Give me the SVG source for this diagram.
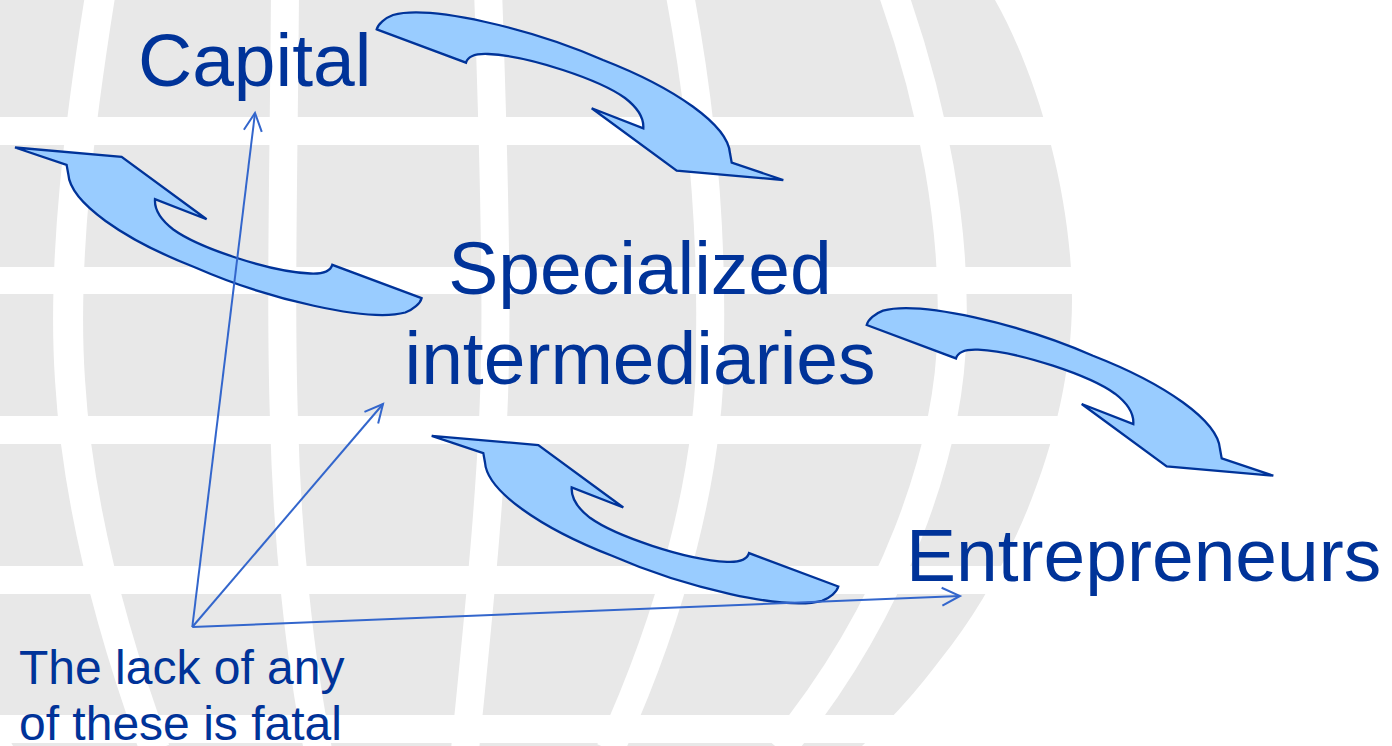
<svg xmlns="http://www.w3.org/2000/svg" width="1392" height="746" viewBox="0 0 1392 746">
  <style>
    .lbl { font-family: "Liberation Sans", Arial, sans-serif; fill: #003399; }
    .big { font-size: 75px; }
    .small { font-size: 48px; }
    .flow { fill: #99CCFF; stroke: #003399; stroke-width: 2.3; stroke-linejoin: miter; }
    .link { fill: none; stroke: #3366CC; stroke-width: 2; marker-end: url(#open-head); }
    .meridian { fill: none; stroke: #ffffff; stroke-width: 28; }
    .parallel { fill: #ffffff; }
  </style>
  <defs>
    <!-- curved block arrow, tail at upper left, head at lower right -->
    <path id="curved-arrow" d="M376.7,29.3 L466,62.7 C468,56 476,53.5 488,54 C530,56 600,80 625,98 C638,108 644,118 643.3,128.3 L591.7,108.3 L676.7,170.7 L783.3,180 L731.7,162.7 L730,153.3 C728,125 675,88 603,60 C530,28 430,5 393,15 C385,18 378,24 376.7,29.3 Z"/>
    <marker id="open-head" viewBox="0 0 20 20" refX="18.5" refY="10" markerWidth="20" markerHeight="20" markerUnits="userSpaceOnUse" orient="auto" overflow="visible">
      <path d="M0.5,1 L18.5,10 L0.5,19" fill="none" stroke="#3366CC" stroke-width="2"/>
    </marker>
  </defs>

  <!-- background globe -->
  <g id="globe">
    <path d="M0,0 L995,0 C1040,80 1072,200 1072,300 C1072,420 1020,560 940,660 C910,700 885,725 862,746 L13,746 L0,722 Z" fill="#e8e8e8"/>
    <rect class="parallel" x="0" y="117" width="1392" height="28"/>
    <rect class="parallel" x="0" y="267" width="1392" height="27"/>
    <rect class="parallel" x="0" y="416" width="1392" height="28"/>
    <rect class="parallel" x="0" y="566" width="1392" height="28"/>
    <rect class="parallel" x="0" y="715" width="1392" height="28"/>
    <path class="meridian" style="stroke-width:30" d="M101,-10 C80,120 62,260 70,380 C76,480 100,600 155,750"/>
    <path class="meridian" d="M285,-10 C284,150 280,300 284,420 C287,540 300,660 318,750"/>
    <path class="meridian" d="M488,-10 C493,130 497,260 495,360 C493,480 478,620 465,750"/>
    <path class="meridian" d="M679,-10 C700,100 712,220 710,340 C712,470 670,620 610,750"/>
    <path class="meridian" style="stroke-width:29" d="M892,-10 C935,110 955,230 952,330 C950,450 895,610 780,750"/>
  </g>

  <!-- flow arrows between the three parties -->
  <g id="flow-capital-to-intermediaries">
    <use href="#curved-arrow" class="flow"/>
  </g>
  <g id="flow-intermediaries-to-capital">
    <use href="#curved-arrow" class="flow" transform="matrix(-1 0 0 -1 798.3 327.5)"/>
  </g>
  <g id="flow-intermediaries-to-entrepreneurs">
    <use href="#curved-arrow" class="flow" transform="translate(490 295.7)"/>
  </g>
  <g id="flow-entrepreneurs-to-intermediaries">
    <use href="#curved-arrow" class="flow" transform="matrix(-1 0 0 -1 1215 615.8)"/>
  </g>

  <!-- nodes -->
  <g id="capital">
    <text class="lbl big" x="138" y="86">Capital</text>
  </g>
  <g id="intermediaries">
    <text class="lbl big" text-anchor="middle" x="640" y="293.5">Specialized</text>
    <text class="lbl big" text-anchor="middle" x="640" y="383.5">intermediaries</text>
  </g>
  <g id="entrepreneurs">
    <text class="lbl big" x="906" y="581">Entrepreneurs</text>
  </g>
  <g id="note">
    <text class="lbl small" x="19" y="684">The lack of any</text>
    <text class="lbl small" x="19" y="740">of these is fatal</text>
  </g>

  <!-- connectors from the note -->
  <g id="connectors">
    <line class="link" x1="192.3" y1="627" x2="255" y2="113"/>
    <line class="link" x1="192.3" y1="627" x2="383" y2="404"/>
    <line class="link" x1="192.3" y1="627" x2="960" y2="596"/>
  </g>
</svg>
